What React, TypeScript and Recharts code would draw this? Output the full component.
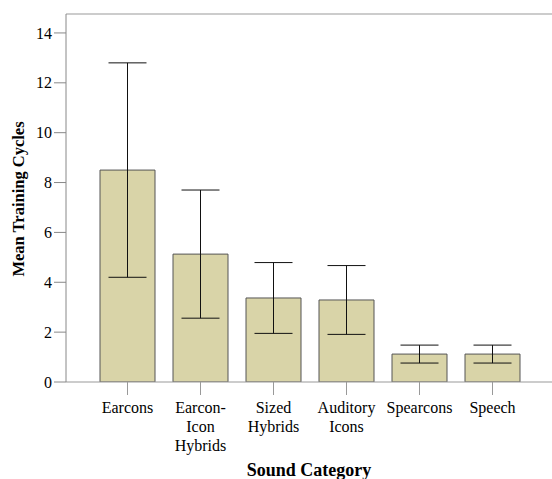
import React from 'react';
import { BarChart, Bar, XAxis, YAxis, ErrorBar, ReferenceLine } from 'recharts';

const categories = ['Earcons', 'Earcon-\nIcon\nHybrids', 'Sized\nHybrids', 'Auditory\nIcons', 'Spearcons', 'Speech'];
const means = [8.5, 5.13, 3.37, 3.29, 1.12, 1.12];
const errors = [4.3, 2.57, 1.42, 1.38, 0.36, 0.36];
const yTicks = [0, 2, 4, 6, 8, 10, 12, 14];
const yMax = 14.76;

const data = categories.map((c, i) => ({ name: c, mean: means[i], err: errors[i] }));

const FONT = '"Liberation Serif", "Times New Roman", serif';

const XTick = (props: any) => {
  const { x, payload } = props;
  const lines = String(payload.value).split('\n');
  return (
    <g>
      {lines.map((l, i) => (
        <text key={i} x={x} y={413 + i * 19} textAnchor="middle" fontFamily={FONT} fontSize={16} fill="#000">
          {l}
        </text>
      ))}
    </g>
  );
};

export default function App() {
  return (
    <div style={{ position: 'absolute', left: 0, top: 0, width: 552, height: 479, background: '#fff' }}>
      <BarChart width={552} height={479} data={data} margin={{ top: 14, right: 0, left: 0, bottom: 0 }} barSize={55}>
        <XAxis
          dataKey="name"
          height={97}
          padding={{ left: 25, right: 23 }}
          stroke="#999"
          tickSize={13}
          tick={<XTick />}
          interval={0}
        />
        <YAxis
          width={66}
          domain={[0, yMax]}
          ticks={yTicks}
          allowDataOverflow
          stroke="#888"
          tickSize={12}
          tickMargin={2}
          tick={{ fontFamily: FONT, fontSize: 16, fill: '#000' }}
        />
        <ReferenceLine y={yMax} stroke="#999" strokeWidth={1} ifOverflow="extendDomain" />
        <Bar dataKey="mean" fill="#d9d4a8" stroke="#555" strokeWidth={1} isAnimationActive={false}>
          <ErrorBar dataKey="err" width={19} stroke="#111" strokeWidth={1} direction="y" />
        </Bar>
      </BarChart>
      <svg width={552} height={479} style={{ position: 'absolute', left: 0, top: 0, pointerEvents: 'none' }}>
        <text
          transform="translate(24,199) rotate(-90)"
          textAnchor="middle"
          fontFamily={FONT}
          fontWeight="bold"
          fontSize={16.5}
          fill="#000"
        >
          Mean Training Cycles
        </text>
        <text x={309} y={476} textAnchor="middle" fontFamily={FONT} fontWeight="bold" fontSize={18} fill="#000">
          Sound Category
        </text>
      </svg>
    </div>
  );
}
